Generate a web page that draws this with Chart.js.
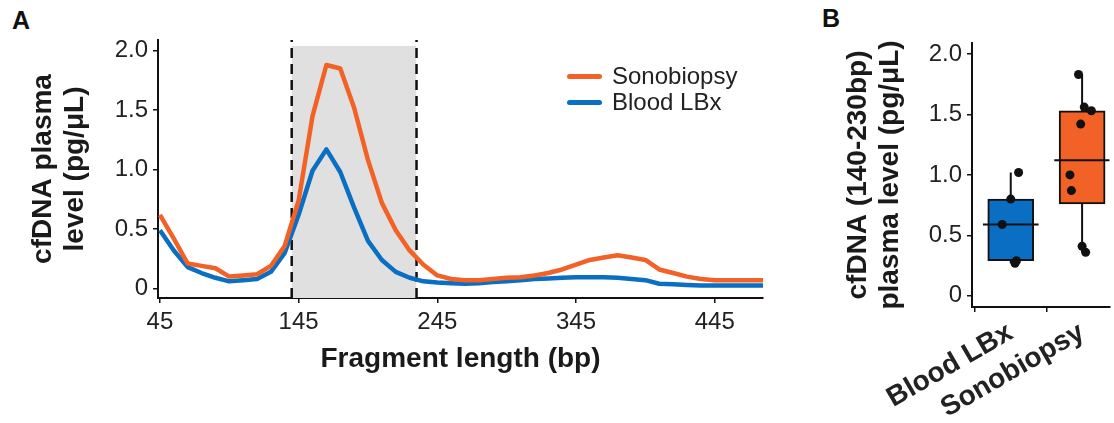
<!DOCTYPE html>
<html lang="en">
<head>
    <meta charset="UTF-8">
    <title>cfDNA fragment length and plasma level</title>
    <script src="https://cdn.jsdelivr.net/npm/chart.js"></script>
    <style>
        body { margin: 0; width: 1114px; height: 423px; position: relative; background: #fff; overflow: hidden;
               font-family: 'Liberation Sans', Arial, sans-serif; color: #222; }
        .wrap { position: absolute; top: 0; height: 423px; }
        .panel-letter { position: absolute; font-weight: bold; font-size: 25px; color: #111; }
        #legendA { position: absolute; left: 567px; top: 63px; font-size: 24px; line-height: 26px; }
        #legendA .item { display: flex; align-items: center; height: 26px; }
        #legendA .swatch { width: 35px; height: 5px; border-radius: 3px; margin-right: 10px; }
    </style>
</head>
<body>
    <div class="panel-letter" style="left:12px;top:6px;">A</div>
    <div class="panel-letter" style="left:822px;top:4px;">B</div>
    <div class="wrap" style="left:0;width:800px;"><canvas id="chartA"></canvas></div>
    <div class="wrap" style="left:800px;width:314px;"><canvas id="chartB"></canvas></div>
    <div id="legendA"></div>

    <script>
        // Panel A: fragment length profiles
        const fragLengths = [45, 55, 65, 75, 85, 95, 105, 115, 125, 135, 145, 155, 165, 175, 185, 195, 205, 215, 225, 235,
            245, 255, 265, 275, 285, 295, 305, 315, 325, 335, 345, 355, 365, 375, 385, 395, 405, 415, 425, 435,
            445, 455, 465, 475, 480];
        const sonoLevels = [0.62, 0.42, 0.21, 0.19, 0.17, 0.10, 0.11, 0.12, 0.19, 0.36, 0.74, 1.45, 1.88, 1.85, 1.52, 1.08,
            0.72, 0.49, 0.32, 0.20, 0.11, 0.08, 0.07, 0.07, 0.08, 0.09, 0.095, 0.11, 0.13, 0.16, 0.20, 0.24, 0.26,
            0.28, 0.26, 0.24, 0.16, 0.13, 0.10, 0.08, 0.07, 0.07, 0.07, 0.07, 0.07];
        const bloodLevels = [0.49, 0.32, 0.18, 0.13, 0.09, 0.06, 0.07, 0.08, 0.14, 0.30, 0.62, 0.99, 1.17, 0.98, 0.68, 0.40,
            0.24, 0.14, 0.09, 0.06, 0.05, 0.045, 0.04, 0.045, 0.055, 0.06, 0.07, 0.08, 0.085, 0.09, 0.095, 0.095, 0.095,
            0.09, 0.08, 0.07, 0.04, 0.035, 0.03, 0.025, 0.025, 0.025, 0.025, 0.025, 0.025];
        const seriesNames = ['Sonobiopsy', 'Blood LBx'];
        const windowRange = [140, 230];   // shaded size-selection window
        const windowTop = 2.04;
        const xTicksA = [45, 145, 245, 345, 445];
        const yTicks = [0, 0.5, 1.0, 1.5, 2.0];
        const yTickLabels = ['0', '0.5', '1.0', '1.5', '2.0'];

        // Panel B: 140-230bp level per sample
        const boxLabels = ['Blood LBx', 'Sonobiopsy'];
        const boxMin = [0.27, 0.36];
        const boxQ1 = [0.29, 0.76];
        const boxMedian = [0.59, 1.12];
        const boxQ3 = [0.80, 1.53];
        const boxMax = [1.02, 1.83];
        const bloodSamples = [1.02, 0.80, 0.59, 0.29, 0.27];
        const bloodJitter = [0.11, 0.0, -0.12, 0.08, 0.06];
        const sonoSamples = [1.83, 1.56, 1.53, 1.42, 1.00, 0.87, 0.41, 0.36];
        const sonoJitter = [-0.05, 0.03, 0.13, -0.02, -0.17, -0.15, 0.0, 0.05];

        const ORANGE = '#F26125';
        const BLUE = '#0A6FC2';
        const FONT = "'Liberation Sans', Arial, sans-serif";

        const tickFont = { family: FONT, size: 24 };
        const titleFont = { family: FONT, size: 28, weight: 'bold', lineHeight: 1.14 };

        function axisStyle() {
            return {
                border: { display: true, color: '#111', width: 2 },
                grid: { display: true, drawOnChartArea: false, drawTicks: true, tickLength: 5, color: '#111', lineWidth: 1.5 }
            };
        }

        // ---------- Panel A ----------
        const toXY = (vals) => fragLengths.map((x, i) => ({ x: x, y: vals[i] }));

        const chartA = new Chart(document.getElementById('chartA'), {
            type: 'line',
            data: {
                datasets: [
                    {
                        label: seriesNames[0], data: toXY(sonoLevels), borderColor: ORANGE, borderWidth: 4.5,
                        pointRadius: 0, tension: 0, borderJoinStyle: 'round', order: 0
                    },
                    {
                        label: seriesNames[1], data: toXY(bloodLevels), borderColor: BLUE, borderWidth: 4.5,
                        pointRadius: 0, tension: 0, borderJoinStyle: 'round', order: 1
                    },
                    {
                        label: '', data: [{ x: windowRange[0], y: -0.08 }, { x: windowRange[0], y: 2.09 }],
                        borderColor: '#111', borderWidth: 2.5, borderDash: [10, 6], pointRadius: 0, order: 3
                    },
                    {
                        label: '', data: [{ x: windowRange[1], y: -0.08 }, { x: windowRange[1], y: 2.09 }],
                        borderColor: '#111', borderWidth: 2.5, borderDash: [10, 6], pointRadius: 0, order: 3
                    },
                    {
                        label: '', data: [{ x: windowRange[0], y: windowTop }, { x: windowRange[1], y: windowTop }],
                        borderWidth: 0, pointRadius: 0, fill: 'start', backgroundColor: '#E0E0E0', order: 4
                    }
                ]
            },
            options: {
                responsive: true,
                maintainAspectRatio: false,
                animation: false,
                layout: { padding: { top: 40, right: 37, left: 0, bottom: 0 } },
                plugins: { legend: { display: false }, tooltip: { enabled: false } },
                scales: {
                    x: {
                        type: 'linear', min: 43.6, max: 479.8,
                        ...axisStyle(),
                        afterBuildTicks: (s) => { s.ticks = xTicksA.map(v => ({ value: v })); },
                        afterFit: (s) => { s.height = 125; },
                        ticks: { font: tickFont, color: '#222', padding: 5, maxRotation: 0, autoSkip: false },
                        title: { display: true, text: 'Fragment length (bp)', font: titleFont, color: '#1a1a1a', padding: { top: 0, bottom: 48 } }
                    },
                    y: {
                        min: -0.08, max: 2.09,
                        ...axisStyle(),
                        afterBuildTicks: (s) => { s.ticks = yTicks.map(v => ({ value: v })); },
                        afterFit: (s) => { s.width = 158; },
                        ticks: { font: tickFont, color: '#222', padding: 5, callback: (v, i) => yTickLabels[i] },
                        title: { display: true, text: ['cfDNA plasma', 'level (pg/μL)'], font: titleFont, color: '#1a1a1a', padding: { top: 27, bottom: 0 } }
                    }
                }
            }
        });

        // HTML legend from the two series
        const legendEl = document.getElementById('legendA');
        chartA.data.datasets.filter(d => seriesNames.includes(d.label)).forEach(d => {
            const item = document.createElement('div');
            item.className = 'item';
            item.innerHTML = '<span class="swatch" style="background:' + d.borderColor + '"></span><span>' + d.label + '</span>';
            legendEl.appendChild(item);
        });

        // ---------- Panel B ----------
        const MEDIAN_HALF = 0.39;
        const whiskers = boxLabels.map((name, i) => ({
            type: 'line', label: '', data: [{ x: i + 1, y: boxMin[i] }, { x: i + 1, y: boxMax[i] }],
            borderColor: '#111', borderWidth: 2, pointRadius: 0, order: 3
        }));
        const medians = boxLabels.map((name, i) => ({
            type: 'line', label: '', data: [{ x: i + 1 - MEDIAN_HALF, y: boxMedian[i] }, { x: i + 1 + MEDIAN_HALF, y: boxMedian[i] }],
            borderColor: '#111', borderWidth: 2, pointRadius: 0, order: 1
        }));
        const samplePoints = bloodSamples.map((v, i) => ({ x: 1 + bloodJitter[i], y: v }))
            .concat(sonoSamples.map((v, i) => ({ x: 2 + sonoJitter[i], y: v })));

        new Chart(document.getElementById('chartB'), {
            type: 'bar',
            data: {
                datasets: [
                    ...whiskers,
                    {
                        type: 'bar', label: 'box', data: boxLabels.map((n, i) => ({ x: i + 1, y: [boxQ1[i], boxQ3[i]] })),
                        backgroundColor: [BLUE, ORANGE], borderColor: '#111', borderWidth: 2, borderSkipped: false,
                        barThickness: 46, grouped: false, order: 2
                    },
                    ...medians,
                    {
                        type: 'scatter', label: 'samples', data: samplePoints,
                        pointRadius: 4.5, pointBackgroundColor: '#111', pointBorderWidth: 0, order: 0
                    }
                ]
            },
            options: {
                responsive: true,
                maintainAspectRatio: false,
                animation: false,
                layout: { padding: { top: 43, right: 0, left: 0, bottom: 0 } },
                plugins: { legend: { display: false }, tooltip: { enabled: false } },
                scales: {
                    x: {
                        type: 'linear', min: 0.457, max: 2.384, offset: false,
                        ...axisStyle(),
                        afterBuildTicks: (s) => { s.ticks = boxLabels.map((n, i) => ({ value: i + 1 })); },
                        afterFit: (s) => { s.height = 116; },
                        ticks: {
                            font: { family: FONT, size: 28, weight: 'bold' }, color: '#222', padding: 4,
                            minRotation: 30, maxRotation: 30, autoSkip: false,
                            callback: (v) => boxLabels[Math.round(v) - 1]
                        }
                    },
                    y: {
                        min: -0.092, max: 2.09,
                        ...axisStyle(),
                        afterBuildTicks: (s) => { s.ticks = yTicks.map(v => ({ value: v })); },
                        afterFit: (s) => { s.width = 172; },
                        ticks: { font: tickFont, color: '#222', padding: 5, callback: (v, i) => yTickLabels[i] },
                        title: { display: true, text: ['cfDNA (140-230bp)', 'plasma level (pg/μL)'], font: titleFont, color: '#1a1a1a', padding: { top: 42, bottom: 0 } }
                    }
                }
            }
        });
    </script>
</body>
</html>
